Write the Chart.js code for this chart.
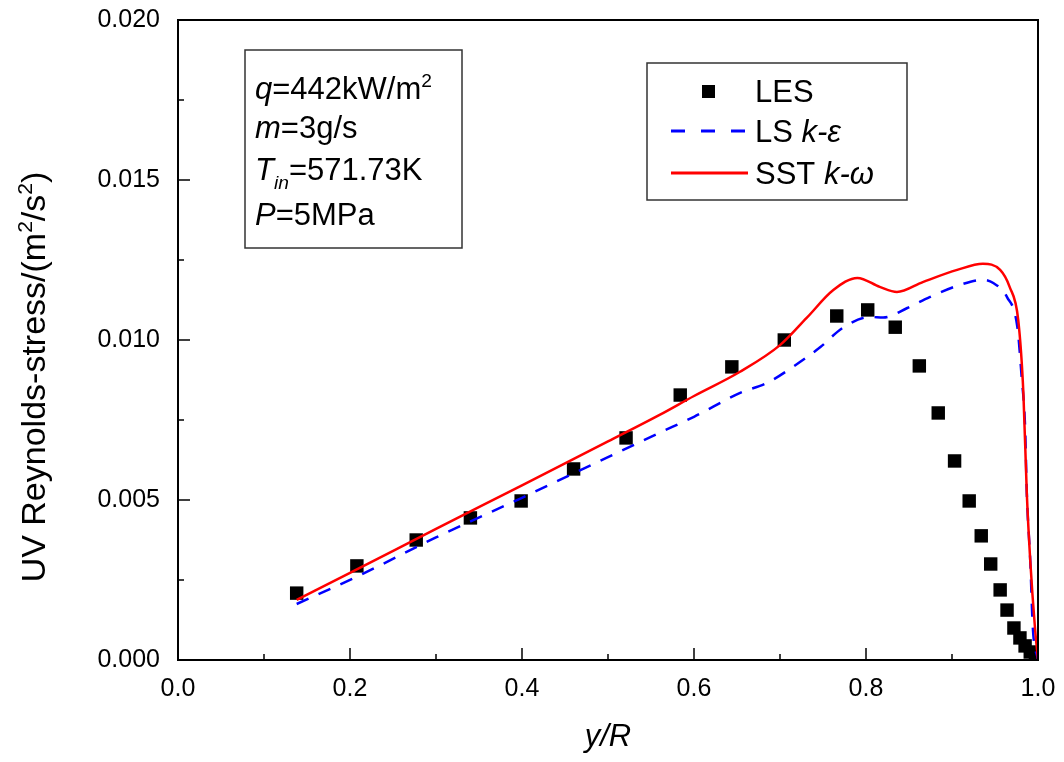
<!DOCTYPE html>
<html>
<head>
<meta charset="utf-8">
<script src="https://cdn.jsdelivr.net/npm/chart.js@4/dist/chart.umd.min.js"></script>
<style>
  body { margin: 0; background: #fff; }
  #wrap { width: 1064px; height: 762px; }
</style>
</head>
<body>
<div id="wrap"><canvas id="uvChart" width="1064" height="762"></canvas></div>
<script>
// LES data (squares)
const lesX = [0.138, 0.208, 0.277, 0.340, 0.399, 0.460, 0.521, 0.584, 0.644, 0.705, 0.766, 0.802, 0.834, 0.862, 0.884, 0.903, 0.920, 0.934, 0.945, 0.956, 0.964, 0.972, 0.979, 0.985, 0.991, 0.997];
const lesY = [0.00209, 0.00294, 0.00375, 0.00444, 0.00497, 0.00597, 0.00694, 0.00828, 0.00916, 0.0100, 0.01075, 0.01094, 0.0104, 0.00919, 0.00772, 0.00622, 0.00497, 0.00388, 0.0030, 0.00219, 0.00156, 0.0010, 0.00069, 0.00044, 0.00025, 0.0001];

// LS k-epsilon (blue dashed)
const lsX = [0.138, 0.21, 0.30, 0.40, 0.50, 0.56, 0.60, 0.653, 0.685, 0.715, 0.747, 0.773, 0.805, 0.820, 0.848, 0.874, 0.909, 0.936, 0.948, 0.964, 0.976, 0.981, 0.985, 0.987, 0.991, 0.994, 1.0];
const lsY = [0.00175, 0.00263, 0.00383, 0.00507, 0.00634, 0.0071, 0.0076, 0.00834, 0.00866, 0.00916, 0.00978, 0.01038, 0.01072, 0.0107, 0.0110, 0.01134, 0.01172, 0.01188, 0.01178, 0.01134, 0.0104, 0.00884, 0.00728, 0.0052, 0.0031, 0.0010, 0.0];

// SST k-omega (red solid)
const sstX = [0.138, 0.20, 0.30, 0.40, 0.50, 0.56, 0.60, 0.653, 0.70, 0.731, 0.762, 0.79, 0.816, 0.836, 0.866, 0.906, 0.936, 0.956, 0.967, 0.977, 0.983, 0.987, 0.991, 0.9965, 1.0];
const sstY = [0.00188, 0.00272, 0.0041, 0.00546, 0.00683, 0.00766, 0.00825, 0.0090, 0.00984, 0.01069, 0.01156, 0.01194, 0.01166, 0.0115, 0.01181, 0.01219, 0.01238, 0.01219, 0.01166, 0.01063, 0.00834, 0.0052, 0.0031, 0.0010, 0.0];

const xMajor = [0, 0.2, 0.4, 0.6, 0.8, 1.0];
const xMinor = [0.1, 0.3, 0.5, 0.7, 0.9];
const yMajor = [0, 0.005, 0.01, 0.015, 0.02];
const yMinor = [0.0025, 0.0075, 0.0125, 0.0175];

const FONT = "'Liberation Sans', Arial, sans-serif";

const toPts = (xs, ys) => xs.map((x, i) => ({ x: x, y: ys[i] }));

// draw text made of pieces (italic / sub / sup)
function drawRich(ctx, x, y, parts, size) {
  let cx = x;
  parts.forEach((p) => {
    const s = p.sub || p.sup ? size * 0.62 : size;
    ctx.font = (p.italic ? "italic " : "") + s + "px " + FONT;
    let dy = 0;
    if (p.sup) dy = -size * 0.38;
    if (p.sub) dy = size * 0.28;
    ctx.fillText(p.t, cx, y + dy);
    cx += ctx.measureText(p.t).width;
  });
  return cx;
}

// drop the extra room Chart.js keeps for the edge tick labels
function noEdgePad(s) {
  s.paddingTop = 0;
  s.paddingBottom = 0;
  s.paddingLeft = 0;
  s.paddingRight = 0;
}

const framePlugin = {
  id: "framePlugin",
  afterDraw(chart) {
    const { ctx, chartArea: a, scales } = chart;
    const xs = scales.x, ys = scales.y;
    ctx.save();
    ctx.strokeStyle = "#000";
    ctx.lineWidth = 2;
    ctx.strokeRect(a.left, a.top, a.right - a.left, a.bottom - a.top);

    // inner ticks
    ctx.lineWidth = 1.5;
    ctx.beginPath();
    xMajor.forEach((v) => { const p = xs.getPixelForValue(v); ctx.moveTo(p, a.bottom); ctx.lineTo(p, a.bottom - 12); });
    xMinor.forEach((v) => { const p = xs.getPixelForValue(v); ctx.moveTo(p, a.bottom); ctx.lineTo(p, a.bottom - 6); });
    yMajor.forEach((v) => { const p = ys.getPixelForValue(v); ctx.moveTo(a.left, p); ctx.lineTo(a.left + 12, p); });
    yMinor.forEach((v) => { const p = ys.getPixelForValue(v); ctx.moveTo(a.left, p); ctx.lineTo(a.left + 6, p); });
    ctx.stroke();

    // y axis title
    ctx.fillStyle = "#000";
    ctx.save();
    ctx.translate(45, 377);
    ctx.rotate(-Math.PI / 2);
    ctx.textBaseline = "alphabetic";
    const ts = 34;
    const yParts = [{ t: "UV Reynolds-stress/(m" }, { t: "2", sup: true }, { t: "/s" }, { t: "2", sup: true }, { t: ")" }];
    let w = 0;
    yParts.forEach((p) => { ctx.font = (p.sup ? ts * 0.62 : ts) + "px " + FONT; w += ctx.measureText(p.t).width; });
    drawRich(ctx, -w / 2, 0, yParts, ts);
    ctx.restore();

    // parameter box
    ctx.lineWidth = 1.5;
    ctx.strokeStyle = "#333";
    ctx.strokeRect(245, 50, 217, 198);
    ctx.textBaseline = "alphabetic";
    const sz = 31;
    drawRich(ctx, 255, 99, [{ t: "q", italic: true }, { t: "=442kW/m" }, { t: "2", sup: true }], sz);
    drawRich(ctx, 255, 138, [{ t: "m", italic: true }, { t: "=3g/s" }], sz);
    drawRich(ctx, 255, 180, [{ t: "T", italic: true }, { t: "in", italic: true, sub: true }, { t: "=571.73K" }], sz);
    drawRich(ctx, 255, 225, [{ t: "P", italic: true }, { t: "=5MPa" }], sz);

    // legend
    ctx.strokeRect(647, 63, 260, 137);
    ctx.fillStyle = "#000";
    ctx.fillRect(702, 85, 13, 13);
    ctx.lineWidth = 3;
    ctx.strokeStyle = "#0000ff";
    ctx.setLineDash([14, 16]);
    ctx.beginPath(); ctx.moveTo(671, 131); ctx.lineTo(748, 131); ctx.stroke();
    ctx.setLineDash([]);
    ctx.strokeStyle = "#ff0000";
    ctx.beginPath(); ctx.moveTo(671, 173); ctx.lineTo(748, 173); ctx.stroke();
    const lz = 31;
    drawRich(ctx, 755, 102, [{ t: "LES" }], lz);
    drawRich(ctx, 755, 142, [{ t: "LS " }, { t: "k-ε", italic: true }], lz);
    drawRich(ctx, 755, 184, [{ t: "SST " }, { t: "k-ω", italic: true }], lz);
    ctx.restore();
  },
};

new Chart(document.getElementById("uvChart").getContext("2d"), {
  type: "scatter",
  data: {
    datasets: [
      {
        label: "LES",
        data: toPts(lesX, lesY),
        pointStyle: "rect",
        pointRadius: 9.5,
        pointHoverRadius: 9.5,
        backgroundColor: "#000",
        borderColor: "#000",
        borderWidth: 0,
        showLine: false,
        order: 3,
      },
      {
        label: "LS k-ε",
        data: toPts(lsX, lsY),
        showLine: true,
        borderColor: "#0000ff",
        borderWidth: 2.5,
        borderDash: [13, 11],
        pointRadius: 0,
        cubicInterpolationMode: "monotone",
        order: 2,
      },
      {
        label: "SST k-ω",
        data: toPts(sstX, sstY),
        showLine: true,
        borderColor: "#ff0000",
        borderWidth: 2.5,
        pointRadius: 0,
        cubicInterpolationMode: "monotone",
        order: 1,
      },
    ],
  },
  options: {
    responsive: false,
    animation: false,
    layout: { padding: { top: 20, right: 26, left: 0, bottom: 0 } },
    plugins: {
      legend: { display: false },
      tooltip: { enabled: false },
    },
    scales: {
      x: {
        type: "linear",
        min: 0,
        max: 1,
        afterFit: (s) => { s.height = 102; noEdgePad(s); },
        ticks: {
          stepSize: 0.2,
          padding: 14,
          color: "#000",
          font: { family: FONT, size: 25 },
          callback: (v) => v.toFixed(1),
        },
        grid: { display: false, drawTicks: false },
        border: { display: false },
        title: {
          display: true,
          text: "y/R",
          color: "#000",
          font: { family: FONT, size: 31, style: "italic" },
          padding: { top: 0, bottom: 6 },
        },
      },
      y: {
        min: 0,
        max: 0.02,
        afterFit: (s) => { s.width = 178; noEdgePad(s); },
        ticks: {
          stepSize: 0.005,
          padding: 18,
          color: "#000",
          font: { family: FONT, size: 25 },
          callback: (v) => v.toFixed(3),
        },
        grid: { display: false, drawTicks: false },
        border: { display: false },
      },
    },
  },
  plugins: [framePlugin],
});
</script>
</body>
</html>
